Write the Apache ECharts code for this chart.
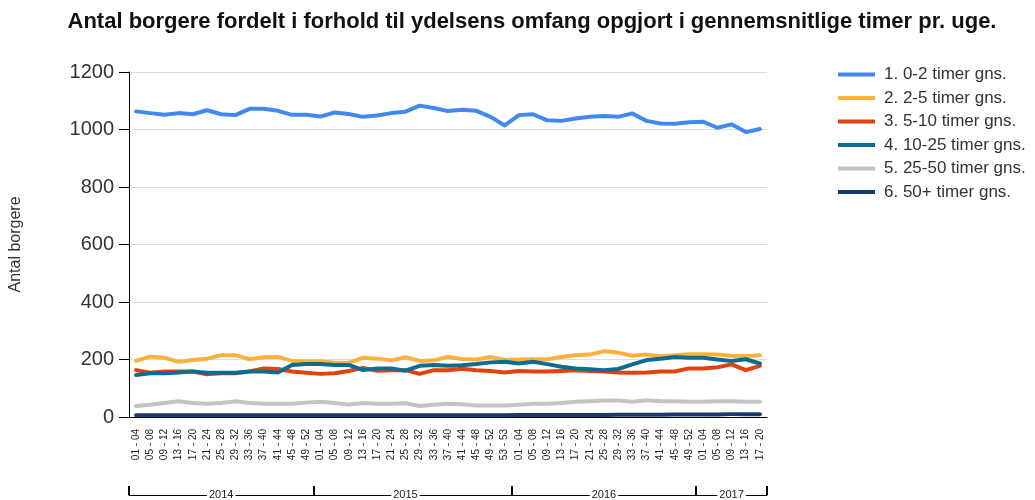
<!DOCTYPE html>
<html lang="da">
<head>
    <meta charset="UTF-8">
    <title>Antal borgere</title>
    <style>
        body {
            margin: 0;
            background: #fff;
        }
        #chart {
            width: 1035px;
            height: 500px;
        }
    </style>
</head>
<body>
    <div id="chart"></div>
    <script src="https://cdn.jsdelivr.net/npm/echarts@6/dist/echarts.min.js"></script>
    <script>
        const weekLabels = [
            '01 - 04', '05 - 08', '09 - 12', '13 - 16', '17 - 20', '21 - 24', '25 - 28', '29 - 32', '33 - 36', '37 - 40', '41 - 44', '45 - 48', '49 - 52',
            '01 - 04', '05 - 08', '09 - 12', '13 - 16', '17 - 20', '21 - 24', '25 - 28', '29 - 32', '33 - 36', '37 - 40', '41 - 44', '45 - 48', '49 - 52', '53 - 53',
            '01 - 04', '05 - 08', '09 - 12', '13 - 16', '17 - 20', '21 - 24', '25 - 28', '29 - 32', '33 - 36', '37 - 40', '41 - 44', '45 - 48', '49 - 52',
            '01 - 04', '05 - 08', '09 - 12', '13 - 16', '17 - 20'
        ];
        const years = ['2014', '2015', '2016', '2017'];
        const yearCounts = [13, 14, 13, 5];

        const seriesNames = [
            '1. 0-2 timer gns.',
            '2. 2-5 timer gns.',
            '3. 5-10 timer gns.',
            '4. 10-25 timer gns.',
            '5. 25-50 timer gns.',
            '6. 50+ timer gns.'
        ];
        const colors = ['#4189ef', '#fdb13d', '#e2430e', '#106c8e', '#c3c3c3', '#1b3a6c'];

        const s0_2 = [1063, 1057, 1051, 1057, 1053, 1067, 1053, 1050, 1072, 1072, 1065, 1051, 1051,
            1045, 1059, 1054, 1044, 1049, 1057, 1062, 1083, 1075, 1064, 1069, 1065, 1044, 1014,
            1050, 1053, 1032, 1030, 1038, 1044, 1047, 1044, 1056, 1030, 1021, 1020, 1025,
            1027, 1006, 1018, 991, 1002];
        const s2_5 = [195, 210, 206, 192, 198, 203, 215, 215, 201, 208, 209, 195, 194,
            194, 189, 189, 206, 203, 197, 208, 195, 197, 209, 202, 200, 209, 198,
            200, 201, 201, 209, 215, 217, 229, 224, 213, 217, 211, 215, 218,
            218, 217, 213, 211, 215];
        const s5_10 = [163, 154, 158, 158, 158, 149, 152, 152, 158, 169, 167, 158, 154,
            150, 152, 160, 171, 161, 163, 163, 150, 163, 163, 168, 163, 160, 155,
            160, 158, 158, 160, 163, 160, 158, 155, 154, 155, 158, 158, 169,
            169, 173, 183, 163, 178];
        const s10_25 = [146, 152, 152, 155, 158, 154, 154, 154, 158, 158, 155, 181, 184,
            184, 181, 181, 163, 169, 169, 161, 178, 181, 178, 180, 184, 190, 192,
            186, 192, 184, 175, 169, 166, 163, 167, 183, 198, 203, 209, 206,
            206, 200, 195, 201, 186];
        const s25_50 = [38, 43, 49, 55, 49, 46, 49, 55, 49, 46, 46, 46, 50,
            53, 49, 43, 49, 46, 46, 48, 38, 43, 46, 44, 40, 40, 40,
            43, 46, 46, 49, 53, 55, 57, 57, 53, 58, 55, 55, 53,
            53, 55, 55, 53, 53];
        const s50 = [6, 6, 6, 6, 6, 6, 6, 6, 6, 6, 6, 6, 6,
            6, 6, 6, 6, 6, 6, 6, 6, 6, 6, 6, 6, 6, 6,
            7, 7, 7, 7, 7, 7, 7, 8, 8, 8, 8, 9, 9,
            9, 9, 10, 10, 10];
        const seriesValues = [s0_2, s2_5, s5_10, s10_25, s25_50, s50];

        // year bracket: ticks at the group boundaries, year label in the middle of each group
        const boundaries = [];
        const yearAt = {};
        let start = 0;
        yearCounts.forEach((n, k) => {
            boundaries.push(start);
            yearAt[start + Math.floor((n - 1) / 2)] = years[k];
            start += n;
        });
        boundaries.push(start);

        const font = 'Arial, "Liberation Sans", sans-serif';
        const chart = echarts.init(document.getElementById('chart'));
        chart.setOption({
            animation: false,
            textStyle: { fontFamily: font },
            title: {
                text: 'Antal borgere fordelt i forhold til ydelsens omfang opgjort i gennemsnitlige timer pr. uge.',
                left: 527,
                textAlign: 'center',
                top: 6,
                textStyle: { fontSize: 22, fontWeight: 'bold', color: '#111', fontFamily: font }
            },
            legend: {
                orient: 'vertical',
                left: 833,
                top: 61,
                icon: 'rect',
                itemWidth: 37,
                itemHeight: 4,
                itemGap: 6.5,
                textStyle: { fontSize: 17, lineHeight: 17, color: '#333', fontFamily: font, padding: [0, 0, 0, 4] },
                data: seriesNames
            },
            grid: {
                left: 124,
                right: 268,
                top: 72,
                bottom: 81
            },
            xAxis: [
                {
                    type: 'category',
                    data: weekLabels,
                    boundaryGap: true,
                    axisLine: { lineStyle: { color: '#000', width: 1 } },
                    axisTick: { alignWithLabel: true, length: 5, lineStyle: { color: '#000' } },
                    axisLabel: {
                        interval: 0,
                        rotate: 90,
                        margin: 12,
                        fontSize: 10,
                        color: '#222',
                        fontFamily: font
                    }
                },
                {
                    type: 'category',
                    data: weekLabels,
                    position: 'bottom',
                    offset: 78,
                    boundaryGap: true,
                    axisLine: { show: true, lineStyle: { color: '#000', width: 1 } },
                    axisTick: {
                        show: true,
                        alignWithLabel: false,
                        inside: true,
                        length: 9,
                        interval: (i) => boundaries.indexOf(i) >= 0,
                        lineStyle: { color: '#000', width: 2 }
                    },
                    axisLabel: {
                        interval: 0,
                        margin: -6,
                        fontSize: 11,
                        color: '#222',
                        backgroundColor: '#fff',
                        padding: [0, 2],
                        formatter: (v, i) => yearAt[i] || ''
                    }
                }
            ],
            yAxis: {
                type: 'value',
                min: 0,
                max: 1200,
                interval: 200,
                name: 'Antal borgere',
                nameLocation: 'middle',
                nameRotate: 90,
                nameGap: 105,
                nameTextStyle: { fontSize: 16, color: '#333', fontFamily: font },
                axisLine: { show: true, lineStyle: { color: '#000' } },
                axisTick: { show: true, length: 10, lineStyle: { color: '#000' } },
                axisLabel: { fontSize: 20, color: '#333', margin: 15, fontFamily: font, formatter: (v) => String(v) },
                splitLine: { lineStyle: { color: '#dedede' } }
            },
            series: seriesValues.map((values, k) => ({
                name: seriesNames[k],
                type: 'line',
                data: values,
                smooth: false,
                symbol: 'none',
                lineStyle: { width: 4, color: colors[k], join: 'round', cap: 'round' },
                itemStyle: { color: colors[k] }
            }))
        });
    </script>
</body>
</html>
